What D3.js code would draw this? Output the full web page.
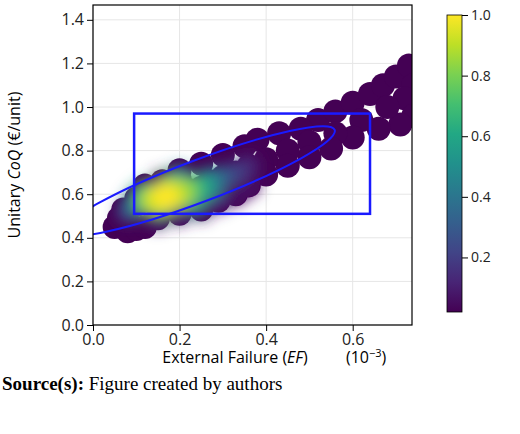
<!DOCTYPE html><html><head><meta charset="utf-8"><script src="https://d3js.org/d3.v7.min.js"></script>
<style>body{margin:0;background:#fff}text{font-family:"Open Sans",sans-serif}</style></head><body><svg id="c" width="520" height="434"></svg>
<script>
const xTicks=[0.0,0.2,0.4,0.6];
const yTicks=[0.0,0.2,0.4,0.6,0.8,1.0,1.2,1.4];
const cTicks=[0.2,0.4,0.6,0.8,1.0];
// [x, y, density]
const pts=[
[0.05,0.45,0.03],[0.06,0.49,0.04],[0.08,0.43,0.03],[0.1,0.44,0.04],[0.12,0.45,0.05],[0.07,0.53,0.05],[0.1,0.58,0.08],[0.12,0.64,0.05],[0.16,0.66,0.06],
[0.2,0.71,0.05],[0.25,0.74,0.05],[0.3,0.78,0.04],[0.35,0.82,0.03],[0.38,0.85,0.03],[0.43,0.88,0.03],[0.48,0.9,0.03],[0.52,0.94,0.02],[0.56,0.98,0.02],
[0.6,1.02,0.02],[0.64,1.06,0.02],[0.67,1.1,0.02],[0.7,1.14,0.02],[0.73,1.19,0.02],[0.74,1.1,0.02],[0.72,1.04,0.02],[0.74,0.96,0.02],[0.71,0.92,0.02],
[0.68,1.0,0.02],[0.66,0.9,0.02],[0.62,0.94,0.02],[0.6,0.86,0.02],[0.56,0.88,0.03],[0.55,0.81,0.03],[0.5,0.84,0.03],[0.5,0.77,0.03],[0.45,0.8,0.04],
[0.45,0.73,0.04],[0.4,0.76,0.05],[0.4,0.69,0.05],[0.36,0.64,0.06],[0.33,0.6,0.06],[0.29,0.57,0.08],[0.25,0.53,0.08],[0.2,0.51,0.1],[0.15,0.49,0.1],
[0.36,0.73,0.12],[0.33,0.7,0.2],[0.3,0.68,0.3],[0.28,0.61,0.3],[0.27,0.66,0.42],[0.2,0.67,0.4],[0.23,0.57,0.5],[0.08,0.52,0.2],[0.1,0.55,0.4],
[0.25,0.63,0.6],[0.12,0.6,0.6],[0.22,0.62,0.75],[0.18,0.63,0.78],[0.16,0.55,0.72],[0.13,0.57,0.8],[0.2,0.6,0.88],[0.15,0.58,0.94],[0.17,0.59,1.0]
];
const svg=d3.select("#c");
const x=d3.scaleLinear().domain([0,0.737]).range([93,412]);
const y=d3.scaleLinear().domain([0,1.468]).range([325,5]);
const col=d3.scaleSequential(d3.interpolateViridis).domain([0.02,1]);
const defs=svg.append("defs");
defs.append("clipPath").attr("id","cp").append("rect").attr("x",93).attr("y",5).attr("width",319).attr("height",320);
defs.append("filter").attr("id","bl").attr("x","-50%").attr("y","-50%").attr("width","200%").attr("height","200%").append("feGaussianBlur").attr("stdDeviation",7);
const g=svg.append("g");
g.selectAll(".gx").data(xTicks).join("line").attr("x1",d=>x(d)).attr("x2",d=>x(d)).attr("y1",5).attr("y2",325).attr("stroke","#e6e6e6");
g.selectAll(".gy").data(yTicks).join("line").attr("y1",d=>y(d)).attr("y2",d=>y(d)).attr("x1",93).attr("x2",412).attr("stroke","#e6e6e6");
const pg=g.append("g").attr("clip-path","url(#cp)");
const sorted=pts.slice().sort((a,b)=>a[2]-b[2]);
pg.append("g").selectAll("circle").data(sorted).join("circle")
 .attr("cx",d=>x(d[0])).attr("cy",d=>y(d[1])).attr("r",12).attr("fill",col(0.02));
const inner=pg.append("g").attr("filter","url(#bl)");
inner.selectAll("circle").data(sorted.filter(d=>d[2]>0.05)).join("circle")
 .attr("cx",d=>x(d[0])).attr("cy",d=>y(d[1])).attr("r",d=>d[2]>0.3?14:11).attr("fill",d=>col(d[2]));
pg.append("rect").attr("x",x(0.095)).attr("y",y(0.97)).attr("width",x(0.64)-x(0.095)).attr("height",y(0.51)-y(0.97)).attr("fill","none").attr("stroke","#1a1aff").attr("stroke-width",2.5);
const ecx=x(0.245),ecy=y(0.66);
pg.append("ellipse").attr("cx",0).attr("cy",0).attr("rx",145).attr("ry",21).attr("transform",`translate(${ecx},${ecy}) rotate(-20.7)`).attr("fill","none").attr("stroke","#1a1aff").attr("stroke-width",2);
g.append("rect").attr("x",93).attr("y",5).attr("width",319).attr("height",320).attr("fill","none").attr("stroke","#000").attr("stroke-width",1.2);
const xa=svg.append("g").attr("transform","translate(0,325)").call(d3.axisBottom(x).tickValues(xTicks).tickFormat(d3.format(".1f")).tickSizeOuter(0));
const ya=svg.append("g").attr("transform","translate(93,0)").call(d3.axisLeft(y).tickValues(yTicks).tickFormat(d3.format(".1f")).tickSizeOuter(0));
[xa,ya].forEach(a=>{a.select(".domain").remove();a.selectAll("text").style("font-size","16px").attr("fill","#222");});
svg.append("text").attr("x",235).attr("y",363).attr("text-anchor","middle").style("font-size","16px").html('External Failure (<tspan font-style="italic">EF</tspan>)');
svg.append("text").attr("x",346).attr("y",363).style("font-size","16px").html('(10<tspan dy="-6" font-size="11">−3</tspan><tspan dy="6">)</tspan>');
svg.append("text").attr("transform","translate(20,165) rotate(-90)").attr("text-anchor","middle").style("font-size","16px").html('Unitary <tspan font-style="italic">CoQ</tspan> (€/unit)');
svg.append("text").attr("x",2).attr("y",390).style("font-family","Liberation Serif").style("font-size","19px").html('<tspan font-weight="bold">Source(s):</tspan> Figure created by authors');
const cy2=d3.scaleLinear().domain([0.02,1]).range([312,15]);
const lg=defs.append("linearGradient").attr("id","vg").attr("x1",0).attr("y1",1).attr("x2",0).attr("y2",0);
d3.range(0,1.01,0.1).forEach(t=>lg.append("stop").attr("offset",t).attr("stop-color",d3.interpolateViridis(t)));
svg.append("rect").attr("x",447).attr("y",15).attr("width",15).attr("height",297).attr("fill","url(#vg)").attr("stroke","#000").attr("stroke-width",0.8);
const ca=svg.append("g").attr("transform","translate(462,0)").call(d3.axisRight(cy2).tickValues(cTicks).tickFormat(d3.format(".1f")).tickSizeOuter(0));
ca.select(".domain").remove();ca.selectAll("text").style("font-size","14px").attr("fill","#222");
</script></body></html>
